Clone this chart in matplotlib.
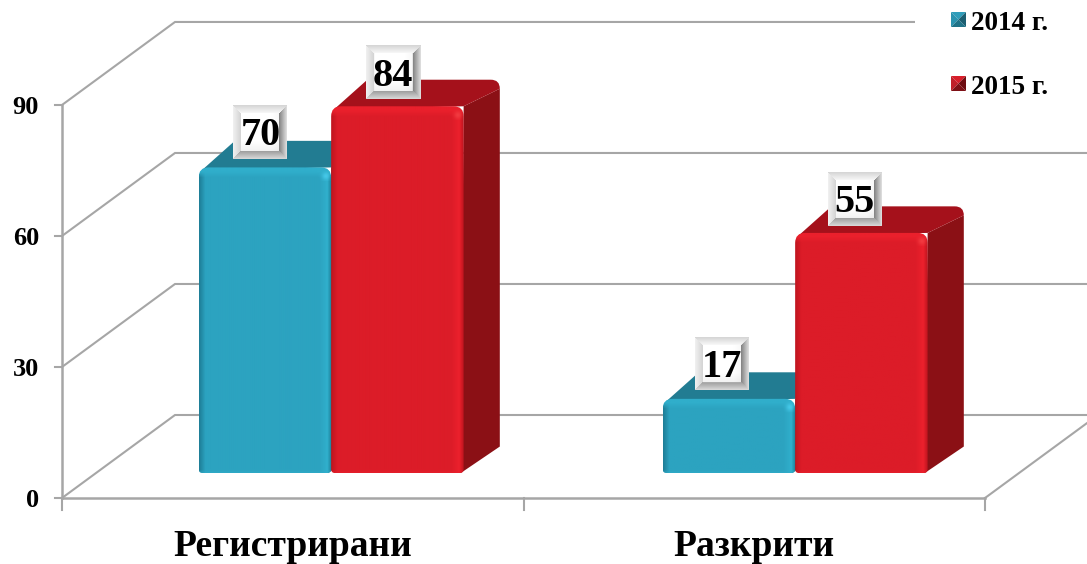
import numpy as np
import matplotlib
matplotlib.use("Agg")
import matplotlib.pyplot as plt
from matplotlib.patches import PathPatch, Polygon, Rectangle
from matplotlib.path import Path

categories = ["Регистрирани", "Разкрити"]
series_names = ["2014 г.", "2015 г."]
values_2014 = [70, 17]
values_2015 = [84, 55]
y_ticks = [0, 30, 60, 90]

plt.rcParams["font.family"] = ["Liberation Serif", "DejaVu Serif"]
plt.rcParams["font.weight"] = "bold"

W, H = 1087, 564
X0, Y0 = 62, 498          # pixel of the front floor corner
PX = 461.5                # pixels per category
PY = 4.367                # pixels per unit of value
DX = 113 / PX             # wall depth, x units
DY = 83 / PY              # wall depth, y units
BAR_W = 132.5 / PX
BAR_D0 = 0.30
BAR_D = 0.32
BAR_SHIFT = 4.5 / PX
BAR_STEP = 2.5 / PX       # bars sit a bit wider apart than the ticks
GREY = "#A6A6A6"

fig = plt.figure(figsize=(W / 100, H / 100), dpi=100)
ax = fig.add_axes([0, 0, 1, 1])
ax.axis("off")
xlim = (-X0 / PX, (W - X0) / PX)
ylim = ((Y0 - H) / PY, Y0 / PY)


def fx(px):
    return (px - X0) / PX


def fy(py):
    return (Y0 - py) / PY


def hex_rgb(c):
    return np.array(matplotlib.colors.to_rgb(c))


# walls and floor
xright = xlim[1] + 1
for v in y_ticks:
    ax.plot([0, DX, xright], [v, v + DY, v + DY], color=GREY, lw=1.5, zorder=1,
            solid_joinstyle="miter")
    ax.plot([-7 / PX, 0], [v, v], color=GREY, lw=1.5, zorder=1)
ax.plot([0, 0], [0, 90], color=GREY, lw=1.8, zorder=1)
ax.plot([0, len(categories)], [0, 0], color=GREY, lw=1.8, zorder=1)
ax.plot([len(categories), len(categories) + DX], [0, DY], color=GREY, lw=1.5, zorder=1)
for i in range(len(categories) + 1):
    ax.plot([i, i], [0, -12 / PY], color=GREY, lw=1.5, zorder=1)
ax.add_patch(Rectangle((fx(915), fy(110)), fx(W + 5) - fx(915), fy(-5) - fy(110),
                       fc="white", ec="none", zorder=2))


def rounded_front(x0, x1, y0, y1):
    # big radius on top, small one at the bottom
    tx, ty = 10 / PX, 10 / PY
    bx, by = 4 / PX, 4 / PY
    verts = [(x0 + bx, y0), (x1 - bx, y0), (x1, y0), (x1, y0 + by), (x1, y1 - ty), (x1, y1),
             (x1 - tx, y1), (x0 + tx, y1), (x0, y1), (x0, y1 - ty), (x0, y0 + by), (x0, y0),
             (x0 + bx, y0), (x0 + bx, y0)]
    codes = [Path.MOVETO, Path.LINETO, Path.CURVE3, Path.CURVE3, Path.LINETO, Path.CURVE3,
             Path.CURVE3, Path.LINETO, Path.CURVE3, Path.CURVE3, Path.LINETO, Path.CURVE3,
             Path.CURVE3, Path.CLOSEPOLY]
    return Path(verts, codes)


def draw_bar(left, value, body, light, bright, dark_edge, top_c, side_c, z):
    x0 = left + BAR_D0 * DX
    x1 = x0 + BAR_W
    y0 = BAR_D0 * DY
    y1 = y0 + value
    bx = BAR_D * DX
    by = BAR_D * DY
    rx = 9 / PX
    ry = 9 / PY

    # side with rounded back corner
    side = Path([(x1 + bx, y1 + by - ry), (x1 + bx, y0 + by), (x1 - 3 / PX, y0), (x1, y1),
                 (x1 + bx, y1 + by - ry)],
                [Path.MOVETO, Path.LINETO, Path.LINETO, Path.LINETO, Path.CLOSEPOLY])
    ax.add_patch(PathPatch(side, fc=side_c, ec="none", zorder=z))
    fl = (x0 + 3 / PX, y1 - 3 / PY)
    top = Path([fl, (x0 + bx, y1 + by), (x1 + bx - rx, y1 + by), (x1 + bx, y1 + by),
                (x1 + bx, y1 + by - ry), (x1, y1), fl],
               [Path.MOVETO, Path.LINETO, Path.LINETO, Path.CURVE3, Path.CURVE3,
                Path.LINETO, Path.CLOSEPOLY])
    ax.add_patch(PathPatch(top, fc=top_c, ec="none", zorder=z + 0.1))

    # front face, shaded with a small image clipped to the rounded outline
    clip = PathPatch(rounded_front(x0, x1, y0, y1), fc="none", ec="none", zorder=z + 0.2)
    ax.add_patch(clip)
    w = int(round(BAR_W * PX))
    h = int(round(value * PY))
    img = np.tile(hex_rgb(body), (h, w, 1))
    edge = hex_rgb(dark_edge)
    lt = hex_rgb(light)
    br = hex_rgb(bright)
    for i in range(6):
        a = 1 - i / 6
        img[:, i] = img[:, i] * (1 - a) + edge * a
    for i in range(12):
        a = min(1, (12 - i) / 7)
        img[:, w - 1 - i] = img[:, w - 1 - i] * (1 - a) + lt * a
    for i in range(4):
        a = 1 - i / 4
        img[:, w - 1 - i] = img[:, w - 1 - i] * (1 - a) + edge * a
    for j in range(10):
        a = min(1, (10 - j) / 6)
        img[j, :] = img[j, :] * (1 - a) + lt * a
    yy, xx = np.mgrid[0:14, 0:14]
    spot = np.exp(-((xx - 5.5) ** 2 + (yy - 8.5) ** 2) / 14)[:, ::-1]
    img[:14, w - 14:] = img[:14, w - 14:] * (1 - spot[..., None]) + br * spot[..., None]
    for j in range(3):
        a = 0.5 * (1 - j / 3)
        img[h - 1 - j, :] = img[h - 1 - j, :] * (1 - a) + lt * a
    im = ax.imshow(img, extent=[x0, x1, y0, y1], aspect="auto", origin="upper",
                   interpolation="bilinear", zorder=z + 0.2)
    im.set_clip_path(clip)
    return (x0 + x1) / 2, y1


def bevel_image(n=54, b=8):
    img = np.ones((n, n, 3))
    for r in range(n):
        for c in range(n):
            d = [r, n - 1 - r, c, n - 1 - c]
            m = min(d)
            if m >= b:
                g = 1 - 0.10 * max(0, (r - (n - 18)) / 18) - 0.06 * max(0, (c - (n - 16)) / 16)
                img[r, c] = g
                continue
            t = m / b
            side = d.index(m)
            if side == 0:
                g = 0.84 + 0.14 * t
            elif side == 2:
                g = 0.94 - 0.12 * t
            elif side == 3:
                g = 0.86 - 0.38 * t
            else:
                g = 0.84 - 0.24 * t
            img[r, c] = g
    return img


def value_label(xc, ytop, value, dx_px, dy_px):
    cx = xc + dx_px / PX
    cy = ytop + dy_px / PY
    hw = 27 / PX
    hh = 26.5 / PY
    ax.imshow(bevel_image(), extent=[cx - hw, cx + hw, cy - hh, cy + hh], aspect="auto",
              origin="upper", interpolation="bilinear", zorder=20)
    ax.text(cx, cy - 3.5 / PY, str(value), ha="center", va="center", fontsize=29,
            fontweight="bold", color="black", zorder=21)


blue = dict(body="#2CA3C0", light="#30AECB", bright="#45C8E8", dark_edge="#1E7F98",
            top_c="#227C92", side_c="#1C6A7D")
red = dict(body="#DC1C28", light="#EA202C", bright="#F23A40", dark_edge="#C0151F",
           top_c="#A5111B", side_c="#8B1015")

for i in range(len(categories)):
    c = i + 0.5 + BAR_SHIFT + i * BAR_STEP
    xb, yb = draw_bar(c - BAR_W, values_2014[i], z=5, **blue)
    xr, yr = draw_bar(c, values_2015[i], z=7, **red)
    value_label(xb, yb, values_2014[i], -4.5 - 2 * i, 35)
    value_label(xr, yr, values_2015[i], -4.5 - 2 * i, 33.5)
    ax.text(i + 0.5, fy(547), categories[i], ha="center", va="center", fontsize=27,
            fontweight="bold", color="black")

for v in y_ticks:
    ax.text(fx(39), v - 2.5 / PY, str(v), ha="right", va="center", fontsize=19,
            fontweight="bold", color="black")


def legend_marker(px, py, s, top, left, right, bottom):
    a, b, c, d = [(fx(px), fy(py)), (fx(px + s), fy(py)), (fx(px + s), fy(py + s)),
                  (fx(px), fy(py + s))]
    m = (fx(px + s / 2), fy(py + s / 2))
    for pts, col in [((a, b, m), top), ((a, d, m), left), ((b, c, m), right), ((d, c, m), bottom)]:
        ax.add_patch(Polygon(pts, fc=col, ec="none", zorder=10))


legend_marker(951, 12, 15, "#2F9DBA", "#2A93AF", "#1C5F72", "#1F7388")
legend_marker(951, 76, 15, "#D81E2A", "#C0202A", "#6E0D12", "#7E1016")
ax.text(fx(971), fy(23), series_names[0], ha="left", va="center", fontsize=19.5,
        fontweight="bold", color="black", zorder=10)
ax.text(fx(971), fy(87), series_names[1], ha="left", va="center", fontsize=19.5,
        fontweight="bold", color="black", zorder=10)

ax.set_xlim(*xlim)
ax.set_ylim(*ylim)
fig.savefig("out.png", dpi=100)
